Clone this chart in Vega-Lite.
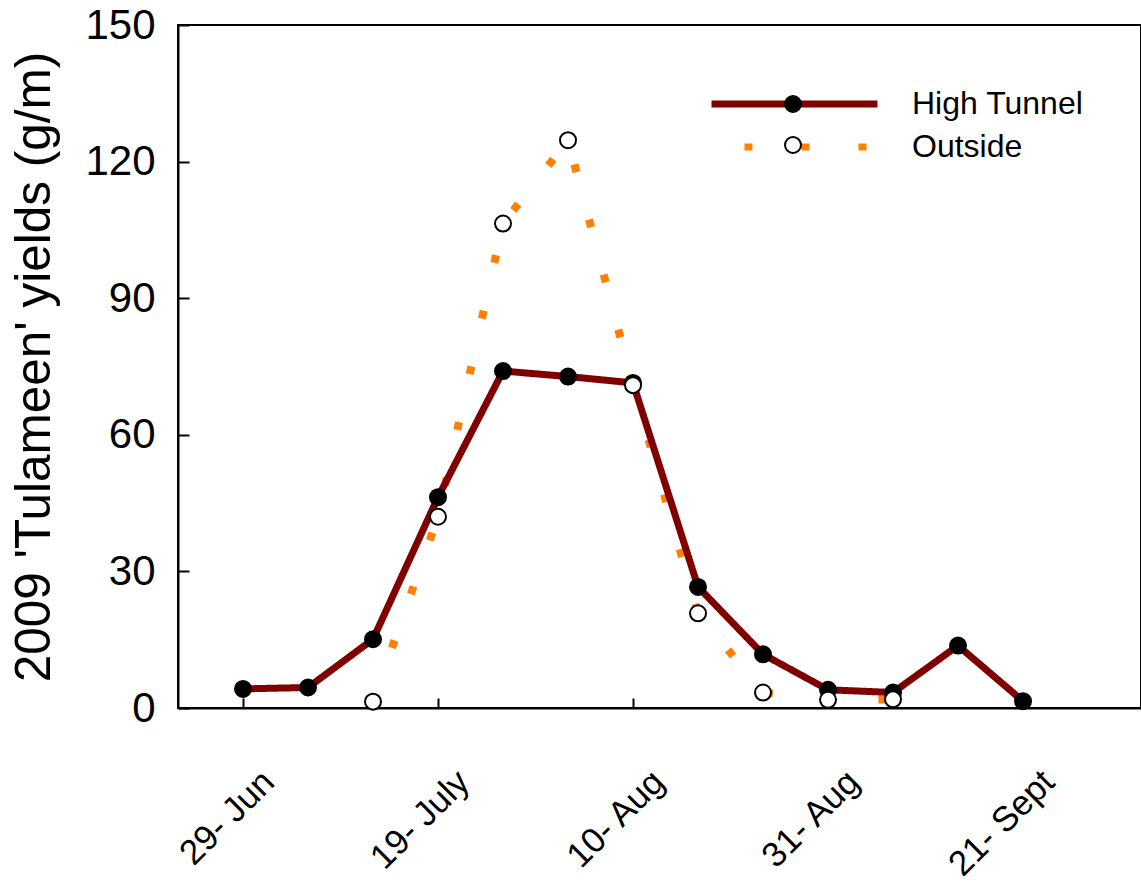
{
  "$schema": "https://vega.github.io/schema/vega-lite/v6.json",
  "width": 963,
  "height": 683,
  "autosize": {"type": "none"},
  "padding": {"left": 178, "top": 25, "right": 0, "bottom": 175},
  "background": "white",
  "config": {
    "font": "Liberation Sans",
    "view": {"stroke": "black", "strokeWidth": 2},
    "axis": {
      "grid": false,
      "domainColor": "black",
      "domainWidth": 2,
      "tickColor": "black",
      "tickWidth": 2,
      "labelColor": "black",
      "titleColor": "black",
      "labelFont": "Liberation Sans",
      "titleFont": "Liberation Sans"
    }
  },
  "datasets": {
    "yields": [
      {"week": 0, "series": "High Tunnel", "yield": 4.2},
      {"week": 1, "series": "High Tunnel", "yield": 4.5},
      {"week": 2, "series": "High Tunnel", "yield": 15.1},
      {"week": 3, "series": "High Tunnel", "yield": 46.3},
      {"week": 4, "series": "High Tunnel", "yield": 74.0},
      {"week": 5, "series": "High Tunnel", "yield": 72.8},
      {"week": 6, "series": "High Tunnel", "yield": 71.4},
      {"week": 7, "series": "High Tunnel", "yield": 26.6},
      {"week": 8, "series": "High Tunnel", "yield": 11.8},
      {"week": 9, "series": "High Tunnel", "yield": 4.0},
      {"week": 10, "series": "High Tunnel", "yield": 3.4},
      {"week": 11, "series": "High Tunnel", "yield": 13.7},
      {"week": 12, "series": "High Tunnel", "yield": 1.5},
      {"week": 2, "series": "Outside", "yield": 1.4},
      {"week": 3, "series": "Outside", "yield": 42.0},
      {"week": 4, "series": "Outside", "yield": 106.4},
      {"week": 5, "series": "Outside", "yield": 124.7},
      {"week": 6, "series": "Outside", "yield": 70.9},
      {"week": 7, "series": "Outside", "yield": 20.8},
      {"week": 8, "series": "Outside", "yield": 3.4},
      {"week": 9, "series": "Outside", "yield": 1.8},
      {"week": 10, "series": "Outside", "yield": 1.9}
    ]
  },
  "data": {"name": "yields"},
  "encoding": {
    "x": {
      "field": "week",
      "type": "quantitative",
      "scale": {"domain": [-1, 13.815], "nice": false, "zero": false},
      "axis": {
        "values": [0, 3, 6, 9, 12],
        "labelExpr": "datum.value == 0 ? '29- Jun' : datum.value == 3 ? '19- July' : datum.value == 6 ? '10- Aug' : datum.value == 9 ? '31- Aug' : '21- Sept'",
        "labelAngle": -45,
        "labelAlign": "right",
        "labelBaseline": "middle",
        "labelFontSize": 35,
        "tickSize": -10,
        "labelPadding": 78,
        "labelOffset": 25,
        "labelOverlap": false,
        "labelFlush": false,
        "labelBound": false,
        "title": null
      }
    },
    "y": {
      "field": "yield",
      "type": "quantitative",
      "scale": {"domain": [0, 150], "nice": false},
      "axis": {
        "values": [0, 30, 60, 90, 120, 150],
        "labelFontSize": 42,
        "tickSize": -11,
        "labelPadding": 34,
        "title": "2009 'Tulameen' yields (g/m)",
        "titleFontSize": 49.5,
        "titleFontWeight": "normal",
        "titlePadding": 25
      }
    }
  },
  "layer": [
    {
      "transform": [{"filter": "datum.series == 'Outside'"}],
      "mark": {"type": "line", "strokeWidth": 8, "strokeCap": "butt"},
      "encoding": {
        "color": {
          "field": "series",
          "type": "nominal",
          "scale": {"domain": ["High Tunnel", "Outside"], "range": ["#800000", "#FF8000"]},
          "legend": {
            "title": null, "orient": "none", "legendX": 530, "legendY": 64,
            "direction": "vertical", "padding": 0, "rowPadding": 11, "clipHeight": 30,
            "symbolType": "stroke", "symbolSize": 27556, "symbolStrokeWidth": 7, "symbolDashOffset": 24,
            "labelFontSize": 32, "labelFont": "Liberation Sans", "labelColor": "black", "labelLimit": 400, "labelOffset": 31
          }
        },
        "strokeDash": {
          "field": "series",
          "type": "nominal",
          "scale": {"domain": ["High Tunnel", "Outside"], "range": [[1, 0], [8, 49]]},
          "legend": {
            "title": null, "orient": "none", "legendX": 530, "legendY": 64,
            "direction": "vertical", "padding": 0, "rowPadding": 11, "clipHeight": 30,
            "symbolType": "stroke", "symbolSize": 27556, "symbolStrokeWidth": 7, "symbolDashOffset": 24,
            "labelFontSize": 32, "labelFont": "Liberation Sans", "labelColor": "black", "labelLimit": 400, "labelOffset": 31
          }
        }
      }
    },
    {
      "transform": [{"filter": "datum.series == 'High Tunnel'"}],
      "mark": {"type": "line", "strokeWidth": 7},
      "encoding": {
        "color": {"field": "series", "type": "nominal", "scale": {"domain": ["High Tunnel", "Outside"], "range": ["#800000", "#FF8000"]}},
        "strokeDash": {"field": "series", "type": "nominal", "scale": {"domain": ["High Tunnel", "Outside"], "range": [[1, 0], [8, 49]]}}
      }
    },
    {
      "mark": {"type": "point", "shape": "circle", "filled": true, "size": 256, "stroke": "black", "strokeWidth": 2, "opacity": 1},
      "encoding": {
        "fill": {
          "field": "series",
          "type": "nominal",
          "scale": {"range": ["black", "white"]},
          "legend": {
            "title": null, "orient": "none", "legendX": 606, "legendY": 64,
            "direction": "vertical", "padding": 0, "rowPadding": 11, "clipHeight": 30,
            "symbolType": "circle", "symbolSize": 256, "symbolStrokeColor": "black", "symbolStrokeWidth": 2, "symbolOpacity": 1,
            "labelExpr": "''", "labelFontSize": 1
          }
        }
      }
    }
  ]
}
